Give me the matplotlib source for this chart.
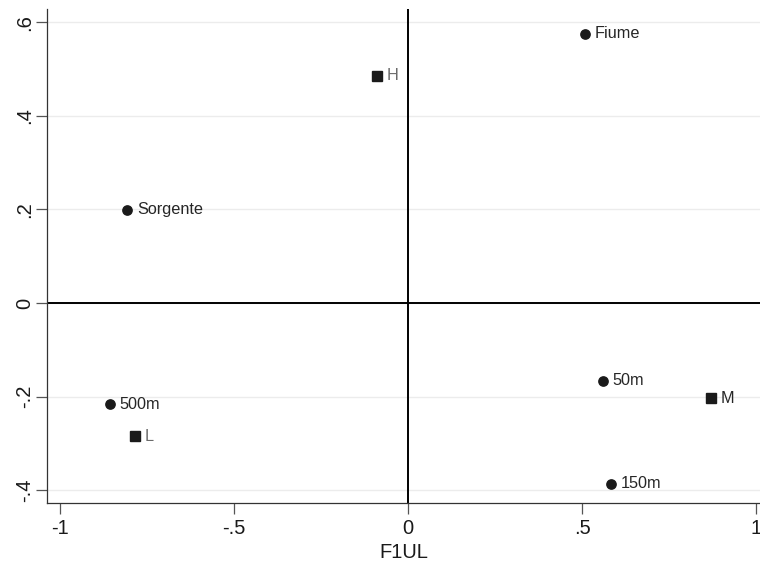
import numpy as np
import matplotlib.pyplot as plt
from matplotlib import rcParams
rcParams.update({"font.family": ["Liberation Sans", "DejaVu Sans"]})

# row points (circles) and column points (squares)
ROW_LABELS = ["Fiume", "Sorgente", "500m", "50m", "150m"]
ROW_X = [0.509, -0.806, -0.857, 0.560, 0.582]
ROW_Y = [0.576, 0.199, -0.216, -0.166, -0.387]

COL_LABELS = ["H", "L", "M"]
COL_X = [-0.088, -0.784, 0.871]
COL_Y = [0.486, -0.285, -0.204]

X_TICKS = [-1, -0.5, 0, 0.5, 1]
X_TICKLABELS = ["-1", "-.5", "0", ".5", "1"]
Y_TICKS = [-0.4, -0.2, 0, 0.2, 0.4, 0.6]
Y_TICKLABELS = ["-.4", "-.2", "0", ".2", ".4", ".6"]


def main():
    fig, ax = plt.subplots(figsize=(7.6, 5.64), dpi=100)
    fig.subplots_adjust(left=0.0614, right=1.0, top=0.9835, bottom=0.1087)

    ax.set_xlim(-1.038, 1.011)
    ax.set_ylim(-0.427, 0.628)

    # light horizontal grid
    for y in Y_TICKS:
        ax.axhline(y, color="#ececec", lw=1.0, zorder=0)
    ax.axhline(0, color="black", lw=1.4, zorder=1)
    ax.axvline(0, color="black", lw=1.4, zorder=1)

    ax.plot(ROW_X, ROW_Y, "o", color="#1a1a1a", ms=6.7, zorder=3)
    ax.plot(COL_X, COL_Y, "s", color="#1a1a1a", ms=7.3, zorder=3)

    for lab, x, y in zip(ROW_LABELS, ROW_X, ROW_Y):
        ax.annotate(lab, (x, y), xytext=(7, 0), textcoords="offset points",
                    va="center", ha="left", fontsize=11.7, color="#262626")
    for lab, x, y in zip(COL_LABELS, COL_X, COL_Y):
        col = "#262626" if lab == "M" else "#6a6a6a"
        ax.annotate(lab, (x, y), xytext=(7, 0), textcoords="offset points",
                    va="center", ha="left", fontsize=11.7, color=col)

    ax.spines["top"].set_visible(False)
    ax.spines["right"].set_visible(False)
    for s in ["left", "bottom"]:
        ax.spines[s].set_color("#333333")
        ax.spines[s].set_linewidth(0.9)

    ax.set_xticks(X_TICKS)
    ax.set_xticklabels(X_TICKLABELS)
    ax.set_yticks(Y_TICKS)
    ax.set_yticklabels(Y_TICKLABELS, rotation=90, va="center")
    ax.tick_params(direction="out", length=8, width=0.9, color="#555555",
                   labelsize=14.5, labelcolor="#1a1a1a", pad=4)
    ax.tick_params(axis="y", pad=1)
    ax.set_xlabel("F1UL", fontsize=14.5, labelpad=3.5, color="#1a1a1a")

    fig.savefig("out.png", dpi=100)


if __name__ == "__main__":
    main()
